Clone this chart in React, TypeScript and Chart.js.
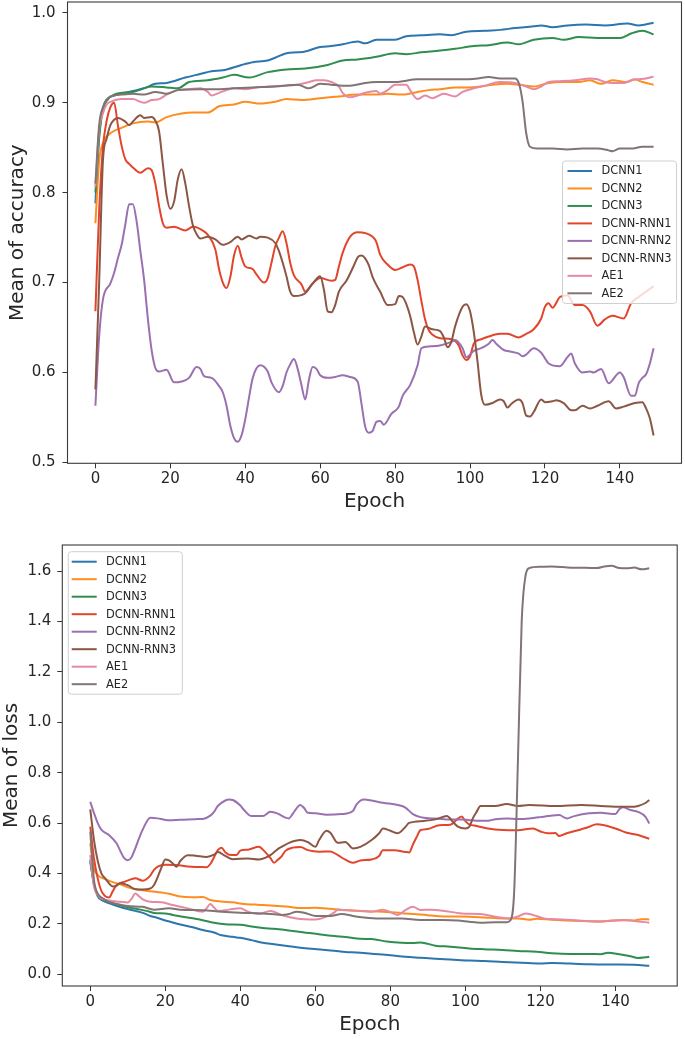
import React, { useEffect, useRef } from 'react';
import { Chart, registerables } from 'chart.js';

Chart.register(...registerables);

type P = [number, number];

const seriesNames = ['DCNN1', 'DCNN2', 'DCNN3', 'DCNN-RNN1', 'DCNN-RNN2', 'DCNN-RNN3', 'AE1', 'AE2'];
const seriesColors = ['#2c75ad', '#ff8c1f', '#2f8e4f', '#e2452b', '#9a70b0', '#8c5644', '#e58aa2', '#817474'];

const epochTicks = [0, 20, 40, 60, 80, 100, 120, 140];
const accYTicks = [0.5, 0.6, 0.7, 0.8, 0.9, 1.0];
const lossYTicks = [0.0, 0.2, 0.4, 0.6, 0.8, 1.0, 1.2, 1.4, 1.6];

// ---------- Mean of accuracy ----------
const accDCNN1: P[] = [[0,0.788],[1,0.865],[2,0.893],[3,0.903],[5,0.908],[8,0.911],[10,0.913],[13,0.916],[16,0.921],[19,0.922],[24,0.928],[28,0.932],[31,0.935],[34,0.936],[39,0.942],[42,0.945],[46,0.947],[48,0.95],[51,0.955],[54,0.956],[56,0.957],[60,0.962],[63,0.963],[66,0.965],[70,0.968],[72,0.966],[75,0.970],[80,0.970],[83,0.974],[87,0.975],[92,0.976],[95,0.975],[99,0.979],[104,0.98],[108,0.981],[112,0.983],[117,0.985],[119,0.986],[122,0.984],[126,0.986],[131,0.987],[136,0.986],[142,0.988],[145,0.986],[149,0.989]];
const accDCNN2: P[] = [[0,0.766],[1,0.835],[2,0.855],[4,0.866],[7,0.872],[10,0.877],[14,0.879],[16,0.878],[19,0.884],[23,0.888],[26,0.889],[30,0.889],[33,0.896],[37,0.898],[40,0.901],[44,0.899],[48,0.901],[51,0.904],[55,0.903],[60,0.905],[65,0.907],[70,0.909],[75,0.909],[78,0.910],[82,0.909],[86,0.912],[89,0.914],[92,0.915],[96,0.917],[99,0.917],[103,0.918],[106,0.920],[110,0.921],[113,0.920],[117,0.918],[121,0.922],[125,0.923],[129,0.923],[132,0.925],[135,0.921],[138,0.925],[142,0.923],[144,0.926],[146,0.923],[149,0.920]];
const accDCNN3: P[] = [[0,0.80],[1,0.86],[2,0.893],[3,0.902],[5,0.909],[10,0.912],[15,0.918],[19,0.917],[22,0.916],[25,0.923],[30,0.925],[34,0.928],[37,0.931],[41,0.928],[46,0.934],[51,0.937],[56,0.938],[62,0.942],[66,0.947],[70,0.948],[75,0.951],[80,0.955],[83,0.954],[87,0.956],[92,0.958],[96,0.960],[101,0.963],[105,0.964],[110,0.967],[113,0.965],[117,0.970],[122,0.972],[125,0.970],[129,0.973],[134,0.972],[140,0.972],[143,0.977],[146,0.980],[149,0.976]];
const accRNN1: P[] = [[0,0.668],[1,0.78],[2,0.85],[3,0.88],[4,0.895],[5,0.900],[6,0.875],[7,0.852],[8,0.837],[9,0.832],[10,0.828],[12,0.822],[14,0.827],[15,0.825],[16,0.81],[17,0.785],[18,0.766],[19,0.761],[21,0.762],[24,0.758],[26,0.762],[29,0.757],[30,0.753],[32,0.737],[33,0.715],[34,0.700],[35,0.694],[36,0.706],[37,0.73],[38,0.741],[39,0.728],[40,0.718],[42,0.715],[43,0.709],[45,0.700],[46,0.705],[47,0.722],[48,0.74],[49,0.75],[50,0.757],[51,0.744],[52,0.722],[53,0.708],[55,0.698],[56,0.690],[58,0.699],[60,0.705],[63,0.702],[64,0.703],[65,0.718],[66,0.733],[68,0.751],[70,0.756],[74,0.751],[75,0.745],[76,0.731],[78,0.72],[80,0.714],[82,0.717],[84,0.72],[85,0.718],[86,0.703],[87,0.68],[88,0.659],[89,0.647],[90,0.642],[92,0.638],[95,0.637],[97,0.630],[98,0.619],[99,0.614],[100,0.618],[101,0.632],[103,0.637],[105,0.640],[108,0.643],[110,0.643],[113,0.639],[115,0.643],[117,0.648],[119,0.660],[120,0.673],[121,0.677],[122,0.672],[124,0.684],[126,0.686],[128,0.675],[130,0.675],[132,0.668],[134,0.652],[136,0.659],[138,0.663],[141,0.66],[143,0.677],[145,0.684],[147,0.69],[149,0.696]];
const accRNN2: P[] = [[0,0.563],[1,0.64],[2,0.681],[4,0.699],[5,0.711],[6,0.727],[7,0.742],[8,0.765],[9,0.787],[10,0.787],[11,0.768],[12,0.735],[13,0.703],[14,0.66],[15,0.625],[16,0.605],[17,0.601],[19,0.603],[21,0.589],[23,0.590],[25,0.594],[27,0.606],[28,0.604],[29,0.596],[31,0.594],[33,0.585],[34,0.578],[35,0.563],[36,0.541],[37,0.527],[38,0.523],[39,0.530],[40,0.548],[41,0.572],[42,0.594],[44,0.608],[46,0.601],[47,0.589],[49,0.578],[50,0.585],[51,0.600],[52,0.609],[53,0.615],[54,0.604],[55,0.586],[56,0.570],[57,0.592],[58,0.606],[59,0.604],[60,0.597],[62,0.594],[64,0.595],[66,0.597],[68,0.595],[70,0.590],[71,0.566],[72,0.540],[73,0.533],[74,0.535],[75,0.545],[76,0.546],[77,0.542],[79,0.554],[81,0.562],[82,0.574],[84,0.586],[86,0.608],[87,0.627],[89,0.629],[92,0.630],[95,0.634],[96,0.636],[98,0.627],[99,0.617],[101,0.624],[103,0.627],[105,0.632],[106,0.636],[107,0.632],[109,0.625],[111,0.623],[113,0.621],[114,0.618],[115,0.620],[117,0.627],[119,0.622],[121,0.610],[124,0.607],[126,0.617],[127,0.621],[128,0.610],[130,0.600],[132,0.601],[133,0.600],[135,0.604],[137,0.588],[140,0.600],[141,0.595],[143,0.574],[144,0.574],[145,0.588],[146,0.594],[147,0.598],[148,0.610],[149,0.627]];
const accRNN3: P[] = [[0,0.581],[1,0.70],[2,0.835],[3,0.86],[4,0.875],[5,0.881],[6,0.883],[8,0.879],[9,0.875],[10,0.879],[12,0.886],[13,0.883],[15,0.884],[16,0.880],[17,0.868],[18,0.832],[19,0.797],[20,0.782],[21,0.790],[22,0.815],[23,0.826],[24,0.810],[25,0.785],[26,0.764],[27,0.754],[28,0.749],[30,0.751],[32,0.748],[34,0.742],[36,0.745],[38,0.751],[39,0.748],[41,0.752],[43,0.749],[44,0.751],[46,0.750],[48,0.744],[49,0.735],[50,0.722],[51,0.707],[52,0.690],[53,0.685],[55,0.686],[56,0.688],[58,0.699],[60,0.707],[61,0.692],[62,0.668],[63,0.667],[64,0.675],[65,0.690],[67,0.702],[69,0.719],[70,0.728],[71,0.730],[72,0.727],[73,0.719],[74,0.706],[76,0.690],[78,0.675],[80,0.676],[81,0.685],[82,0.684],[83,0.676],[84,0.663],[85,0.645],[86,0.631],[87,0.640],[88,0.651],[90,0.648],[92,0.646],[93,0.639],[94,0.628],[95,0.634],[96,0.651],[98,0.673],[99,0.676],[100,0.668],[101,0.645],[102,0.612],[103,0.575],[104,0.564],[106,0.566],[108,0.570],[109,0.568],[110,0.561],[111,0.565],[113,0.570],[114,0.566],[115,0.552],[116,0.551],[117,0.556],[119,0.570],[120,0.567],[122,0.568],[123,0.569],[125,0.566],[127,0.558],[128,0.558],[130,0.563],[132,0.560],[134,0.563],[137,0.568],[139,0.560],[141,0.562],[144,0.566],[146,0.567],[147,0.560],[148,0.549],[149,0.530]];
const accAE1: P[] = [[0,0.806],[1,0.870],[2,0.888],[3,0.898],[4,0.901],[7,0.904],[10,0.904],[12,0.901],[13,0.900],[15,0.903],[17,0.904],[19,0.909],[22,0.914],[25,0.915],[28,0.916],[30,0.912],[31,0.908],[33,0.911],[35,0.914],[37,0.916],[40,0.915],[43,0.917],[46,0.918],[50,0.919],[54,0.920],[57,0.923],[59,0.925],[61,0.925],[63,0.923],[65,0.918],[66,0.911],[68,0.906],[70,0.908],[72,0.911],[75,0.913],[76,0.910],[78,0.914],[80,0.920],[83,0.920],[84,0.914],[86,0.904],[88,0.908],[90,0.905],[93,0.910],[96,0.907],[98,0.912],[101,0.916],[104,0.919],[108,0.923],[112,0.922],[115,0.918],[117,0.915],[119,0.918],[121,0.923],[124,0.924],[128,0.925],[132,0.927],[134,0.926],[136,0.923],[138,0.922],[141,0.922],[143,0.925],[145,0.926],[147,0.927],[149,0.929]];
const accAE2: P[] = [[0,0.81],[1,0.875],[2,0.895],[4,0.907],[7,0.909],[10,0.910],[13,0.909],[16,0.912],[19,0.910],[22,0.914],[28,0.915],[32,0.915],[37,0.916],[42,0.917],[48,0.918],[54,0.920],[56,0.917],[57,0.916],[60,0.921],[63,0.920],[66,0.919],[68,0.919],[72,0.922],[75,0.923],[80,0.923],[86,0.926],[92,0.926],[98,0.926],[102,0.927],[105,0.9285],[108,0.927],[112,0.927],[113,0.922],[114,0.902],[115,0.866],[116,0.851],[118,0.849],[122,0.849],[126,0.848],[130,0.849],[134,0.849],[137,0.847],[138,0.846],[140,0.849],[143,0.849],[146,0.851],[149,0.851]];

// ---------- Mean of loss ----------
const lossDCNN1: P[] = [[0,0.447],[1,0.36],[2,0.31],[3,0.295],[4,0.288],[6,0.277],[8,0.267],[10,0.259],[12,0.252],[14,0.244],[16,0.232],[18,0.224],[20,0.214],[22,0.206],[24,0.198],[27,0.188],[30,0.176],[33,0.166],[35,0.155],[38,0.149],[40,0.145],[43,0.136],[46,0.126],[49,0.120],[52,0.114],[55,0.108],[58,0.103],[62,0.098],[65,0.094],[68,0.089],[71,0.087],[75,0.082],[80,0.076],[84,0.070],[88,0.066],[92,0.062],[96,0.059],[101,0.055],[105,0.053],[110,0.049],[115,0.046],[120,0.043],[123,0.045],[128,0.043],[133,0.040],[137,0.039],[141,0.039],[145,0.038],[149,0.034]];
const lossDCNN2: P[] = [[0,0.52],[1,0.42],[2,0.394],[4,0.378],[6,0.366],[8,0.357],[10,0.346],[13,0.336],[16,0.330],[19,0.325],[21,0.32],[24,0.309],[27,0.306],[30,0.307],[32,0.295],[35,0.289],[38,0.286],[41,0.279],[44,0.277],[46,0.275],[50,0.271],[53,0.268],[56,0.263],[60,0.264],[64,0.260],[67,0.256],[71,0.253],[75,0.250],[79,0.248],[83,0.243],[87,0.239],[90,0.235],[93,0.231],[97,0.230],[101,0.229],[105,0.226],[110,0.222],[114,0.222],[117,0.217],[119,0.221],[123,0.217],[127,0.214],[131,0.212],[135,0.211],[139,0.213],[142,0.215],[145,0.214],[147,0.219],[149,0.218]];
const lossDCNN3: P[] = [[0,0.455],[1,0.354],[2,0.315],[4,0.295],[7,0.278],[10,0.266],[13,0.258],[15,0.252],[17,0.244],[20,0.242],[22,0.236],[25,0.228],[28,0.221],[30,0.215],[33,0.205],[36,0.199],[40,0.197],[43,0.19],[46,0.184],[49,0.181],[52,0.176],[56,0.168],[59,0.163],[62,0.157],[65,0.152],[68,0.148],[72,0.141],[75,0.140],[79,0.131],[83,0.126],[86,0.125],[88,0.127],[92,0.114],[96,0.110],[101,0.103],[105,0.100],[110,0.097],[114,0.093],[119,0.090],[123,0.084],[128,0.081],[133,0.081],[136,0.080],[138,0.086],[141,0.080],[144,0.072],[146,0.065],[148,0.068],[149,0.070]];
const lossRNN1: P[] = [[0,0.586],[1,0.46],[2,0.38],[3,0.33],[4,0.31],[5,0.305],[6,0.33],[7,0.354],[9,0.367],[11,0.378],[12,0.381],[14,0.372],[16,0.392],[17,0.415],[18,0.428],[20,0.435],[23,0.434],[26,0.428],[29,0.426],[31,0.425],[32,0.438],[33,0.465],[34,0.493],[35,0.502],[36,0.485],[37,0.475],[39,0.474],[40,0.491],[42,0.495],[45,0.506],[46,0.495],[48,0.462],[49,0.443],[50,0.455],[51,0.468],[52,0.490],[54,0.503],[56,0.505],[58,0.493],[61,0.487],[64,0.488],[66,0.473],[68,0.455],[70,0.443],[72,0.452],[75,0.456],[77,0.47],[78,0.493],[81,0.493],[84,0.486],[85,0.484],[86,0.515],[87,0.545],[88,0.572],[90,0.577],[93,0.592],[96,0.594],[98,0.618],[99,0.626],[100,0.608],[101,0.595],[103,0.589],[106,0.579],[110,0.573],[114,0.572],[118,0.579],[120,0.567],[122,0.560],[124,0.561],[125,0.549],[127,0.560],[130,0.572],[133,0.586],[135,0.596],[137,0.592],[140,0.579],[143,0.562],[146,0.553],[149,0.538]];
const lossRNN2: P[] = [[0,0.685],[1,0.64],[2,0.60],[3,0.573],[5,0.553],[7,0.52],[8,0.49],[9,0.462],[10,0.453],[11,0.465],[12,0.50],[13,0.54],[14,0.575],[16,0.622],[18,0.619],[20,0.613],[22,0.612],[25,0.614],[28,0.616],[30,0.617],[32,0.63],[33,0.645],[34,0.668],[36,0.69],[37,0.694],[38,0.692],[40,0.67],[41,0.652],[43,0.628],[46,0.628],[48,0.645],[50,0.638],[52,0.622],[53,0.619],[54,0.638],[56,0.672],[57,0.660],[58,0.641],[60,0.639],[63,0.633],[67,0.636],[70,0.648],[71,0.675],[73,0.694],[75,0.690],[78,0.681],[82,0.672],[84,0.662],[86,0.636],[88,0.624],[91,0.619],[95,0.615],[99,0.615],[101,0.612],[103,0.610],[106,0.610],[108,0.616],[111,0.619],[114,0.617],[117,0.619],[120,0.624],[122,0.628],[125,0.632],[127,0.619],[129,0.628],[133,0.639],[136,0.641],[140,0.636],[141,0.655],[142,0.663],[144,0.652],[146,0.645],[148,0.625],[149,0.599]];
const lossRNN3: P[] = [[0,0.655],[1,0.533],[2,0.45],[3,0.40],[4,0.381],[6,0.349],[7,0.352],[8,0.362],[10,0.354],[12,0.338],[14,0.337],[16,0.341],[17,0.355],[18,0.387],[19,0.425],[20,0.456],[21,0.452],[22,0.440],[23,0.427],[24,0.450],[26,0.473],[28,0.471],[31,0.466],[33,0.475],[34,0.486],[36,0.470],[38,0.457],[42,0.460],[45,0.456],[47,0.465],[48,0.473],[50,0.497],[51,0.506],[53,0.522],[56,0.533],[58,0.525],[60,0.506],[61,0.533],[63,0.570],[64,0.562],[66,0.522],[68,0.525],[70,0.500],[72,0.506],[75,0.533],[77,0.560],[78,0.579],[80,0.570],[82,0.560],[84,0.585],[85,0.601],[89,0.609],[92,0.615],[94,0.625],[95,0.628],[97,0.600],[98,0.586],[100,0.579],[101,0.585],[102,0.620],[103,0.645],[104,0.668],[108,0.668],[111,0.676],[114,0.668],[117,0.672],[124,0.668],[131,0.672],[136,0.668],[140,0.665],[145,0.665],[146,0.668],[148,0.680],[149,0.692]];
const lossAE1: P[] = [[0,0.473],[1,0.348],[2,0.315],[3,0.301],[5,0.293],[8,0.288],[10,0.285],[11,0.30],[12,0.321],[13,0.31],[14,0.298],[16,0.288],[19,0.286],[22,0.275],[26,0.262],[30,0.249],[31,0.262],[32,0.279],[33,0.265],[34,0.252],[37,0.257],[40,0.262],[42,0.249],[45,0.240],[48,0.252],[51,0.236],[55,0.222],[60,0.218],[63,0.229],[65,0.245],[66,0.257],[69,0.255],[72,0.252],[75,0.249],[78,0.257],[80,0.247],[82,0.236],[84,0.255],[86,0.268],[88,0.256],[91,0.257],[94,0.253],[99,0.242],[104,0.240],[108,0.229],[112,0.222],[114,0.230],[116,0.242],[118,0.236],[121,0.222],[124,0.219],[128,0.216],[132,0.212],[136,0.209],[139,0.214],[142,0.216],[145,0.212],[149,0.205]];
const lossAE2: P[] = [[0,0.566],[1,0.374],[2,0.32],[3,0.305],[5,0.288],[7,0.280],[10,0.271],[14,0.268],[17,0.257],[21,0.262],[24,0.257],[30,0.255],[35,0.249],[40,0.245],[46,0.242],[51,0.236],[53,0.240],[55,0.249],[57,0.245],[60,0.232],[64,0.232],[67,0.24],[70,0.232],[73,0.226],[77,0.222],[83,0.222],[88,0.216],[94,0.216],[98,0.214],[101,0.209],[104,0.205],[108,0.207],[111,0.207],[112,0.215],[113,0.33],[114,0.85],[115,1.4],[116,1.58],[117,1.612],[120,1.617],[123,1.618],[126,1.616],[129,1.613],[132,1.613],[135,1.612],[137,1.618],[139,1.621],[141,1.612],[143,1.611],[145,1.614],[147,1.607],[149,1.611]];

const accSeries: P[][] = [accDCNN1, accDCNN2, accDCNN3, accRNN1, accRNN2, accRNN3, accAE1, accAE2];
const lossSeries: P[][] = [lossDCNN1, lossDCNN2, lossDCNN3, lossRNN1, lossRNN2, lossRNN3, lossAE1, lossAE2];

const FONT = '"DejaVu Sans", "Liberation Sans", sans-serif';
const TEXT = '#262626';

const framePlugin = {
  id: 'mplFrame',
  afterDatasetsDraw(chart: any) {
    const { ctx, chartArea } = chart;
    const { left, top, right, bottom } = chartArea;
    ctx.save();
    ctx.strokeStyle = '#3a3a3a';
    ctx.lineWidth = 1.1;
    ctx.strokeRect(left, top, right - left, bottom - top);
    ctx.restore();
  },
};

const legendPlugin = {
  id: 'mplLegend',
  afterDraw(chart: any, _args: any, opts: any) {
    if (!opts || !opts.box) return;
    const { ctx } = chart;
    const b = opts.box;
    ctx.save();
    ctx.beginPath();
    if (ctx.roundRect) ctx.roundRect(b.x, b.y, b.w, b.h, 3);
    else ctx.rect(b.x, b.y, b.w, b.h);
    ctx.fillStyle = 'rgba(255,255,255,0.8)';
    ctx.fill();
    ctx.strokeStyle = '#cfcfcf';
    ctx.lineWidth = 1;
    ctx.stroke();
    ctx.font = `${opts.fontSize}px ${FONT}`;
    ctx.textBaseline = 'middle';
    ctx.textAlign = 'left';
    chart.data.datasets.forEach((ds: any, i: number) => {
      const y = opts.firstRow + i * opts.rowH;
      ctx.beginPath();
      ctx.strokeStyle = ds.borderColor;
      ctx.lineWidth = 2;
      ctx.moveTo(opts.lineX0, y);
      ctx.lineTo(opts.lineX1, y);
      ctx.stroke();
      ctx.fillStyle = TEXT;
      ctx.fillText(ds.label, opts.textX, y + 0.5);
    });
    ctx.restore();
  },
};

interface Spec {
  series: P[][];
  yMin: number;
  yMax: number;
  yTicks: number[];
  yTitle: string;
  yAxisW: number;
  xAxisH: number;
  padTop: number;
  padRight: number;
  yTitlePad: number;
  xTitlePad: number;
  yTickPad: number;
  legend: any;
}

function buildConfig(s: Spec): any {
  return {
    type: 'line',
    data: {
      datasets: s.series.map((pts, i) => ({
        label: seriesNames[i],
        data: pts.map(([x, y]) => ({ x, y })),
        borderColor: seriesColors[i],
        backgroundColor: seriesColors[i],
        borderWidth: 2,
        pointRadius: 0,
        pointHoverRadius: 0,
        cubicInterpolationMode: 'monotone',
        fill: false,
        order: seriesNames.length - 1 - i,
      })),
    },
    options: {
      responsive: false,
      animation: false,
      devicePixelRatio: 1,
      events: [],
      layout: { padding: { top: s.padTop, right: s.padRight, left: 0, bottom: 0 } },
      plugins: {
        legend: { display: false },
        tooltip: { enabled: false },
        mplLegend: s.legend,
      },
      scales: {
        x: {
          type: 'linear',
          min: -7.45,
          max: 156.45,
          border: { display: false },
          grid: { display: true, drawOnChartArea: false, drawTicks: true, tickLength: 5, color: '#333' },
          ticks: {
            autoSkip: false,
            maxRotation: 0,
            padding: 2,
            color: TEXT,
            font: { family: FONT, size: 15 },
            callback: (v: any) => String(v),
          },
          afterBuildTicks: (scale: any) => {
            scale.ticks = epochTicks.map((v) => ({ value: v }));
          },
          afterFit: (scale: any) => {
            scale.height = s.xAxisH;
            scale.paddingLeft = 0;
            scale.paddingRight = 0;
          },
          title: {
            display: true,
            text: 'Epoch',
            color: TEXT,
            font: { family: FONT, size: 20 },
            padding: { top: 0, bottom: s.xTitlePad },
          },
        },
        y: {
          type: 'linear',
          min: s.yMin,
          max: s.yMax,
          border: { display: false },
          grid: { display: true, drawOnChartArea: false, drawTicks: true, tickLength: 5, color: '#333' },
          ticks: {
            autoSkip: false,
            padding: s.yTickPad,
            color: TEXT,
            font: { family: FONT, size: 15 },
            callback: (v: any) => Number(v).toFixed(1),
          },
          afterBuildTicks: (scale: any) => {
            scale.ticks = s.yTicks.map((v) => ({ value: v }));
          },
          afterFit: (scale: any) => {
            scale.width = s.yAxisW;
            scale.paddingTop = 0;
            scale.paddingBottom = 0;
          },
          title: {
            display: true,
            text: s.yTitle,
            color: TEXT,
            font: { family: FONT, size: 20 },
            padding: { top: s.yTitlePad, bottom: 0 },
          },
        },
      },
    },
    plugins: [framePlugin, legendPlugin],
  };
}

export default function App() {
  const accRef = useRef<HTMLCanvasElement>(null);
  const lossRef = useRef<HTMLCanvasElement>(null);

  useEffect(() => {
    document.body.style.margin = '0';
    Chart.defaults.font.family = FONT;
    const acc = new Chart(
      accRef.current as HTMLCanvasElement,
      buildConfig({
        series: accSeries,
        yMin: 0.499,
        yMax: 1.012,
        yTicks: accYTicks,
        yTitle: 'Mean of accuracy',
        yAxisW: 67.5,
        xAxisH: 56.7,
        padTop: 2,
        padRight: 3.5,
        yTitlePad: 6,
        xTitlePad: 6,
        yTickPad: 7,
        legend: {
          box: { x: 562.5, y: 161, w: 114, h: 142.5 },
          firstRow: 171,
          rowH: 17.47,
          lineX0: 567.5,
          lineX1: 592,
          textX: 601.5,
          fontSize: 11.4,
        },
      })
    );
    const loss = new Chart(
      lossRef.current as HTMLCanvasElement,
      buildConfig({
        series: lossSeries,
        yMin: -0.046,
        yMax: 1.7036,
        yTicks: lossYTicks,
        yTitle: 'Mean of loss',
        yAxisW: 62.3,
        xAxisH: 53,
        padTop: 25,
        padRight: 7.8,
        yTitlePad: 0,
        xTitlePad: 2,
        yTickPad: 6,
        legend: {
          box: { x: 68.3, y: 31.7, w: 114, h: 142.5 },
          firstRow: 41.7,
          rowH: 17.5,
          lineX0: 71.7,
          lineX1: 96.7,
          textX: 106,
          fontSize: 11.4,
        },
      })
    );
    return () => {
      acc.destroy();
      loss.destroy();
    };
  }, []);

  return (
    <div style={{ position: 'absolute', left: 0, top: 0, width: 685, height: 1039, background: '#ffffff' }}>
      <canvas
        ref={accRef}
        width={685}
        height={520}
        style={{ position: 'absolute', left: 0, top: 0, width: 685, height: 520 }}
      />
      <canvas
        ref={lossRef}
        width={685}
        height={519}
        style={{ position: 'absolute', left: 0, top: 520, width: 685, height: 519 }}
      />
    </div>
  );
}
